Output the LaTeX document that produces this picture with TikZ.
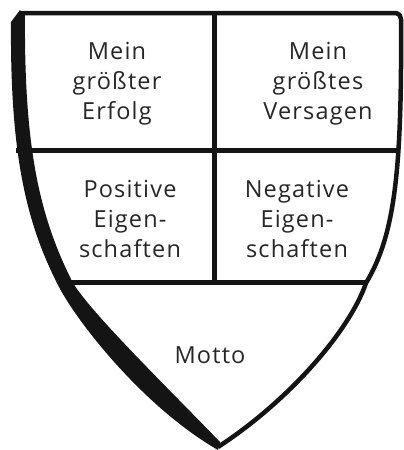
\documentclass[tikz,border=0pt]{standalone}
\usepackage{fontspec}
\setmainfont{Open Sans}[LetterSpace=5]
\usetikzlibrary{positioning}

\begin{document}
\begin{tikzpicture}[x=1pt, y=-1pt, line join=round,
    field/.style={align=center, font=\fontsize{23.5}{30}\selectfont, text=black!85},
    divider/.style={line width=5pt, black!92}]
    % Frame of the picture
    \useasboundingbox (0,0) rectangle (404,450);

    % Corners of the shield
    \coordinate (TL) at (21,13);
    \coordinate (TR) at (396,13);
    \coordinate (Tip) at (218,447);
    \coordinate (Top) at (214,13);
    \coordinate (Cross) at (214,282);

    % Ends of the dividing lines
    \coordinate (L1) at (16,150);
    \coordinate (R1) at (400,150);
    \coordinate (L2) at (60,282);
    \coordinate (R2) at (366,282);

    % Thick left border
    \fill[black!92] (20,10) -- (11,22) .. controls (10,150) and (25,220) .. (57,283)
        .. controls (72,315) and (140,405) .. (218,450) -- (220,442)
        .. controls (168,388) and (92,314) .. (73,283)
        .. controls (40,218) and (24,150) .. (25,15) -- cycle;

    % Top and right border
    \draw[line width=4.5pt, black!92] (TL) -- (TR) to[out=0, in=90] (401,19)
        .. controls (402,170) and (395,235) .. (366,283)
        .. controls (350,330) and (290,400) .. (Tip);

    % Dividing lines
    \draw[divider] (Top) -- (Cross);
    \draw[divider] (L1) -- (R1);
    \draw[divider] (L2) -- (R2);

    % Fields of the shield
    \node[field] (erfolg) at (117,84) {Mein\\größter\\Erfolg};
    \node[field] (versagen) at (318,84) {Mein\\größtes\\Versagen};
    \node[field] (positiv) at (130,219) {Positive\\Eigen-\\schaften};
    \node[field] (negativ) at (297,219) {Negative\\Eigen-\\schaften};
    \node[field] (motto) at (210,355) {Motto};
\end{tikzpicture}
\end{document}
